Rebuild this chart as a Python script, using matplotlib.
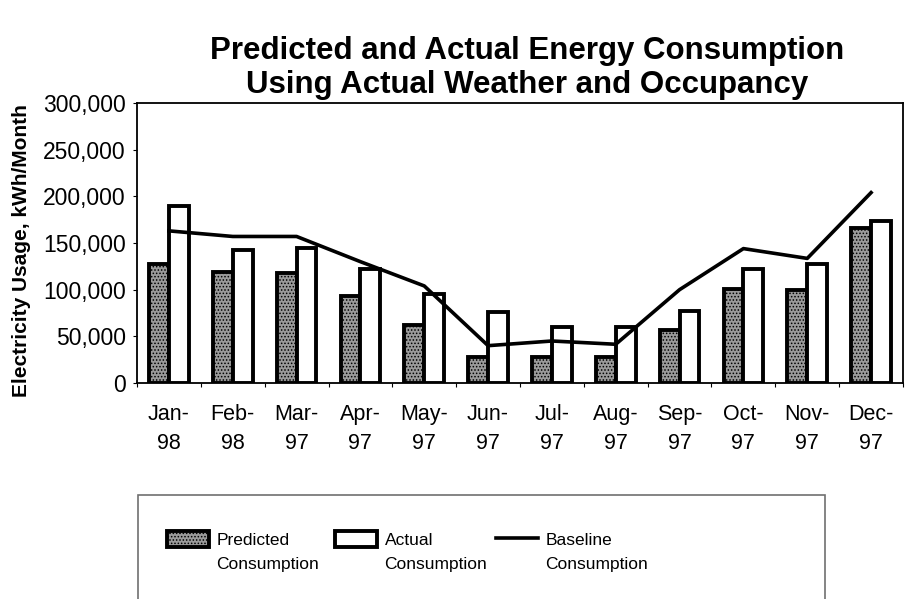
import numpy as np
import matplotlib
matplotlib.use("Agg")
import matplotlib.pyplot as plt
from matplotlib.patches import Rectangle
from matplotlib.ticker import FuncFormatter

months = ["Jan-\n98", "Feb-\n98", "Mar-\n97", "Apr-\n97", "May-\n97", "Jun-\n97",
          "Jul-\n97", "Aug-\n97", "Sep-\n97", "Oct-\n97", "Nov-\n97", "Dec-\n97"]
predicted = [127000, 119000, 117500, 93000, 62000, 28000,
             28000, 28000, 56500, 101000, 100000, 166000]
actual = [190000, 142000, 145000, 122000, 95000, 76000,
          59500, 59500, 77500, 122000, 127000, 174000]
baseline = [163000, 157000, 157000, 130000, 104000, 40000,
            45000, 41500, 100000, 144000, 133500, 204000]

plt.rcParams['font.family'] = ['Liberation Sans', 'DejaVu Sans']

fig = plt.figure(figsize=(9.06, 5.99), dpi=100)
ax = fig.add_axes([137/906, 1-383/599, (903-137)/906, (383-103)/599])

x = np.arange(len(months))
w = 0.31
plt.rcParams['hatch.linewidth'] = 0.7
b1 = ax.bar(x - w/2, predicted, w, facecolor='#9a9a9a', edgecolor='black',
            linewidth=2.8, hatch='.....', label='Predicted')
b2 = ax.bar(x + w/2, actual, w, facecolor='white', edgecolor='black',
            linewidth=2.8, label='Actual')
l1, = ax.plot(x, baseline, color='black', linewidth=2.6, label='Baseline')

ax.set_xlim(-0.5, 11.5)
ax.set_ylim(0, 300000)
ax.set_yticks(np.arange(0, 300001, 50000))
ax.yaxis.set_major_formatter(FuncFormatter(lambda v, p: f"{int(v):,}"))
ax.tick_params(axis='y', labelsize=16.5, length=3, pad=5, direction='out')

# tick marks between categories, labels centered on categories
ax.set_xticks(np.arange(-0.5, 12, 1))
ax.set_xticklabels([])
ax.set_xticks(x, minor=True)
ax.set_xticklabels(months, minor=True, fontsize=15.5, linespacing=1.5)
ax.tick_params(axis='x', which='major', length=3, direction='out')
ax.tick_params(axis='x', which='minor', length=0, pad=15)

for s in ax.spines.values():
    s.set_linewidth(1.3)

fig.text(22/906, 1-251/599, "Electricity Usage, kWh/Month", rotation=90,
         fontsize=15, fontweight='bold', ha='center', va='center')

fig.text(527/906, 1-68/599,
         "Predicted and Actual Energy Consumption\nUsing Actual Weather and Occupancy",
         fontsize=22.5, fontweight='bold', ha='center', va='center', linespacing=1.2)

# legend box
fig.patches.append(Rectangle((138/906, -0.05), (825-138)/906, (599-495)/599 + 0.05,
                             transform=fig.transFigure, facecolor='none',
                             edgecolor='#707070', linewidth=1.2))

handles = [b1, b2, l1]
words = ["Predicted", "Actual", "Baseline"]
hx = [167, 335, 496]
legs = []
for h, wd, px in zip(handles, words, hx):
    lg = fig.legend([h], [wd], loc='upper left', bbox_to_anchor=(px/906, 1-531/599),
                    frameon=False, fontsize=12.5, handlelength=2.4, handleheight=1.0,
                    handletextpad=0.45, borderpad=0, borderaxespad=0)
    legs.append(lg)

fig.canvas.draw()
inv = fig.transFigure.inverted()
for lg in legs:
    t = lg.get_texts()[0]
    bb = t.get_window_extent()
    x0, y0 = inv.transform((bb.x0, bb.y0))
    fig.text(x0, y0 - 9/599, "Consumption", fontsize=12.5, ha='left', va='top')

fig.savefig("out.png", dpi=100)
